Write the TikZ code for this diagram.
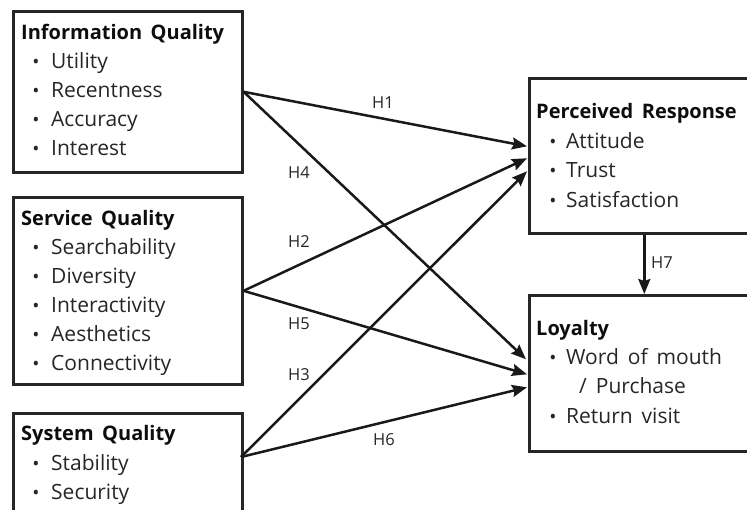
\documentclass[tikz,border=0pt]{standalone}
\usepackage{fontspec}
\setmainfont{Open Sans}
\usetikzlibrary{arrows.meta,calc}
\begin{document}
\begin{tikzpicture}[x=1pt,y=-1pt,
 box/.style={draw=black!85,line width=2.6pt,rectangle,inner sep=0pt,anchor=north west,minimum width=229pt},
 ttl/.style={anchor=base west,inner sep=0pt,text=black!95,font=\fontsize{20}{22}\selectfont\bfseries},
 itm/.style={anchor=base west,inner sep=0pt,text=black!85,font=\fontsize{21}{22}\selectfont},
 bul/.style={anchor=base,inner sep=0pt,text=black!85,font=\fontsize{19}{22}\selectfont},
 conn/.style={draw=black!90,line width=2.5pt,-{Stealth[length=15pt,width=12pt,inset=2pt]}},
 lbl/.style={font=\fontsize{16.5}{18}\selectfont,inner sep=0pt,text=black!85}]
\useasboundingbox (0,0) rectangle (747,509);
\begin{scope}
\clip (0,0) rectangle (747,509);
% boxes
\node[box,minimum height=161pt] (iq) at (12,10) {};
\node[box,minimum height=187pt] (sq) at (12,196) {};
\node[box,minimum height=130pt] (syq) at (12,412) {};
\node[box,minimum width=230pt,minimum height=155pt] (pr) at (528,77) {};
\node[box,minimum width=230pt,minimum height=156pt] (loy) at (528,294) {};
\end{scope}
% Information Quality
\node[ttl] (iqt) at (21,39) {Information\, Quality};
\node[bul] (iqb1) at (36,68) {•}; \node[itm] (iq1) at (51,68) {Utility};
\node[bul] (iqb2) at (36,97) {•}; \node[itm] (iq2) at (51,97) {Recentness};
\node[bul] (iqb3) at (36,126) {•}; \node[itm] (iq3) at (51,126) {Accuracy};
\node[bul] (iqb4) at (36,155) {•}; \node[itm] (iq4) at (51,155) {Interest};
% Service Quality
\node[ttl] (sqt) at (21,225) {Service\, Quality};
\node[bul] (sqb1) at (36,254) {•}; \node[itm] (sq1) at (51,254) {Searchability};
\node[bul] (sqb2) at (36,283) {•}; \node[itm] (sq2) at (51,283) {Diversity};
\node[bul] (sqb3) at (36,312) {•}; \node[itm] (sq3) at (51,312) {Interactivity};
\node[bul] (sqb4) at (36,341) {•}; \node[itm] (sq4) at (51,341) {Aesthetics};
\node[bul] (sqb5) at (36,370) {•}; \node[itm] (sq5) at (51,370) {Connectivity};
% System Quality
\node[ttl] (syt) at (21,440) {System\, Quality};
\node[bul] (syb1) at (36,470) {•}; \node[itm] (sy1) at (51,470) {Stability};
\node[bul] (syb2) at (36,499) {•}; \node[itm] (sy2) at (51,499) {Security};
% Perceived Response
\node[ttl] (prt) at (536,118) {Perceived\, Response};
\node[bul] (prb1) at (553,148) {•}; \node[itm] (pr1) at (566,148) {Attitude};
\node[bul] (prb2) at (553,177) {•}; \node[itm] (pr2) at (566,177) {Trust};
\node[bul] (prb3) at (553,207) {•}; \node[itm] (pr3) at (566,207) {Satisfaction};
% Loyalty
\node[ttl] (loyt) at (536,335) {Loyalty};
\node[bul] (lb1) at (553,364) {•}; \node[itm] (l1) at (566,364) {Word\, of\, mouth};
\node[itm] (l2) at (579,393) {/\, Purchase};
\node[bul] (lb3) at (553,423) {•}; \node[itm] (l3) at (566,423) {Return\, visit};
% connectors
\coordinate (ss) at (241,457);
\draw[conn] (iq.east) -- ($(pr.west)+(-1,-9.5)$);
\draw[conn] (iq.east) -- ($(loy.west)+(-2,-14)$);
\draw[conn] (sq.east) -- ($(pr.west)+(-1,2.5)$);
\draw[conn] (sq.east) -- ($(loy.west)+(-1,1)$);
\draw[conn] (ss) -- ($(pr.west)+(-1,15.5)$);
\draw[conn] (ss) -- ($(loy.west)+(-1,14)$);
\draw[conn] (pr.south) -- (loy.north);
% labels
\node[lbl] (h1) at (383,103) {H1};
\node[lbl] (h4) at (299,173) {H4};
\node[lbl] (h2) at (299,242) {H2};
\node[lbl] (h5) at (299,324) {H5};
\node[lbl] (h3) at (299,375) {H3};
\node[lbl] (h6) at (384,440) {H6};
\node[lbl] (h7) at (662,263) {H7};
\end{tikzpicture}
\end{document}
